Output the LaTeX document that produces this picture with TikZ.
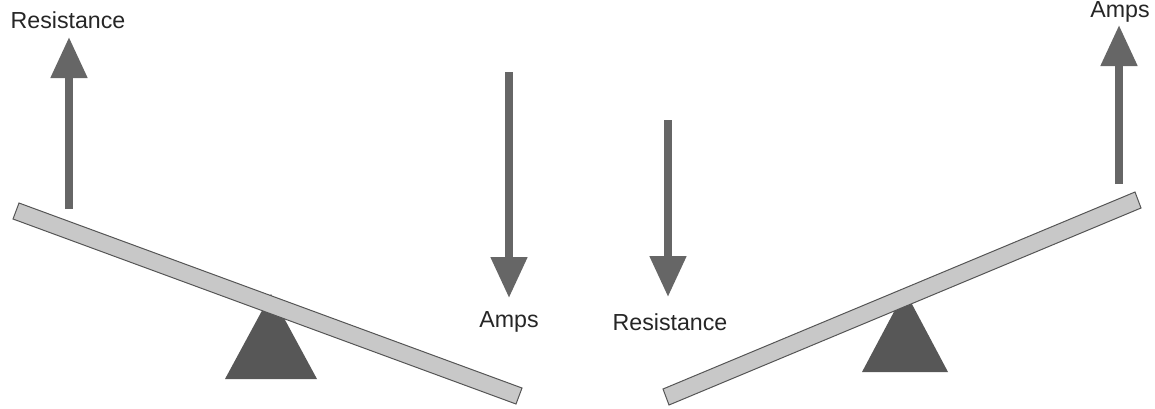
\documentclass[tikz,border=0pt]{standalone}
\usepackage{fontspec}
\setmainfont{Liberation Sans}
\usetikzlibrary{arrows.meta}
\definecolor{arrowgray}{HTML}{666666}
\definecolor{beamfill}{HTML}{C8C8C8}
\definecolor{beamline}{HTML}{555555}
\definecolor{fulcrum}{HTML}{575757}
\begin{document}
\begin{tikzpicture}[x=0.5pt,y=-0.5pt,
  force/.style={draw=arrowgray,line width=4pt,-{Triangle[width=17.5pt,length=20.5pt]},arrowgray},
  beam/.style={fill=beamfill,draw=beamline,line width=0.5pt},
  pivot/.style={fill=fulcrum,draw=none},
  lbl/.style={font=\fontsize{11.6}{14}\selectfont,text=black!85,inner sep=0pt}]
\useasboundingbox (0,0) rectangle (1155,408);
% left seesaw
\fill[pivot] (225,379) -- (271,294) -- (317,379) -- cycle;
\draw[beam] (19,203) -- (522,388) -- (516,404) -- (13,219) -- cycle;
% right seesaw
\fill[pivot] (862,372) -- (905,291) -- (948,372) -- cycle;
\draw[beam] (663,389) -- (1135,192) -- (1141,208) -- (669,405) -- cycle;
% labels
\node[lbl] (resL) at (68,20) {Resistance};
\node[lbl] (ampsM) at (509,322) {Amps};
\node[lbl] (resM) at (670,322) {Resistance};
\node[lbl] (ampsR) at (1120,12) {Amps};
% arrows
\coordinate (a1s) at (69,209);
\coordinate (a1e) at (69,37);
\coordinate (a2s) at (509,72);
\coordinate (a2e) at (509,298);
\coordinate (a3s) at (668,120);
\coordinate (a3e) at (668,297);
\coordinate (a4s) at (1119,184);
\coordinate (a4e) at (1119,25);
\draw[force] (a1s) -- (a1e);
\draw[force] (a2s) -- (a2e);
\draw[force] (a3s) -- (a3e);
\draw[force] (a4s) -- (a4e);
\end{tikzpicture}
\end{document}
